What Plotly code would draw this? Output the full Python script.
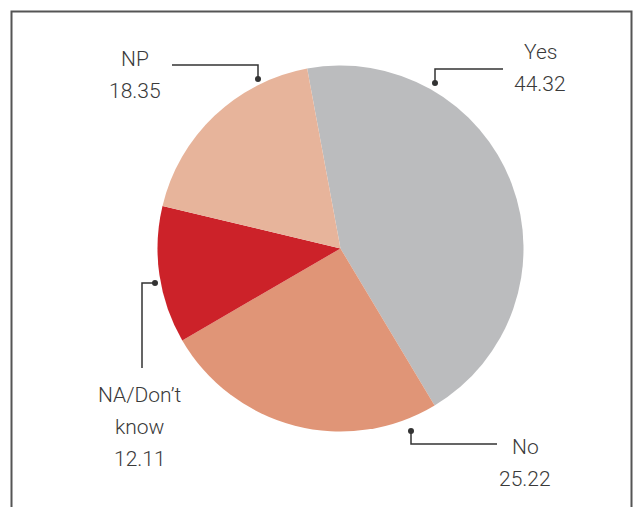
import plotly.graph_objects as go

labels = ["Yes", "No", "NA/Don’t know", "NP"]
values = [44.32, 25.22, 12.11, 18.35]
colors = ["#BBBCBE", "#E09577", "#CC2229", "#E7B49B"]

W, H = 633, 507

def px(x, y):
    return x / W, 1 - y / H

# pie placement (pixels): center and radius
cx, cy, R = 340.5, 248.5, 183
fig = go.Figure(go.Pie(
    labels=labels, values=values, sort=False, direction="clockwise",
    rotation=-10.5, marker=dict(colors=colors, line=dict(width=0)),
    textinfo="none", hoverinfo="label+value", showlegend=False,
    domain=dict(x=[(cx - R) / W, (cx + R) / W], y=[1 - (cy + R) / H, 1 - (cy - R) / H]),
))

# label layout (style): text lines center, line pitch, leader path
label_style = {
    "Yes": dict(x=540, y=52, lines=["Yes"], path=[(435, 83), (435, 69), (503, 69)]),
    "No": dict(x=525, y=447, lines=["No"], path=[(411, 431), (411, 444), (497, 444)]),
    "NA/Don’t know": dict(x=140, y=395, lines=["NA/Don’t", "know"], path=[(155, 283), (142, 283), (142, 368)]),
    "NP": dict(x=135, y=59, lines=["NP"], path=[(258, 79), (258, 65), (172, 65)]),
}
pitch = 32
font = dict(family="Roboto, Liberation Sans, Arial, sans-serif", size=21, color="#3a3a3a", weight=300)

shapes = []
annotations = []
for lab, val in zip(labels, values):
    st = label_style[lab]
    lines = st["lines"] + [f"{val:.2f}"]
    for i, t in enumerate(lines):
        ax, ay = px(st["x"], st["y"] + i * pitch)
        annotations.append(dict(x=ax, y=ay, xref="paper", yref="paper", text=t,
                                showarrow=False, xanchor="center", yanchor="middle", font=font))
    pts = st["path"]
    d = "M " + " L ".join(f"{px(x, y)[0]},{px(x, y)[1]}" for x, y in pts)
    shapes.append(dict(type="path", path=d, xref="paper", yref="paper",
                       line=dict(color="#333333", width=1.5)))
    dx, dy = pts[0]
    x0, y0 = px(dx - 3, dy + 3)
    x1, y1 = px(dx + 3, dy - 3)
    shapes.append(dict(type="circle", xref="paper", yref="paper", x0=x0, y0=y0, x1=x1, y1=y1,
                       fillcolor="#333333", line=dict(width=0)))

# frame (left, top, right)
fx0, fy0 = px(11.5, 11.5)
fx1, fy1 = px(631.5, 510)
shapes.append(dict(type="path", xref="paper", yref="paper",
                   path=f"M {fx0},{fy1} L {fx0},{fy0} L {fx1},{fy0} L {fx1},{fy1}",
                   line=dict(color="#555555", width=2)))

fig.update_layout(
    width=W, height=H, margin=dict(l=0, r=0, t=0, b=0),
    paper_bgcolor="white", plot_bgcolor="white",
    shapes=shapes, annotations=annotations,
)
fig.write_html("out.html", config={"displayModeBar": False},
               post_script="document.body.style.margin='0';document.body.style.overflow='hidden';")
